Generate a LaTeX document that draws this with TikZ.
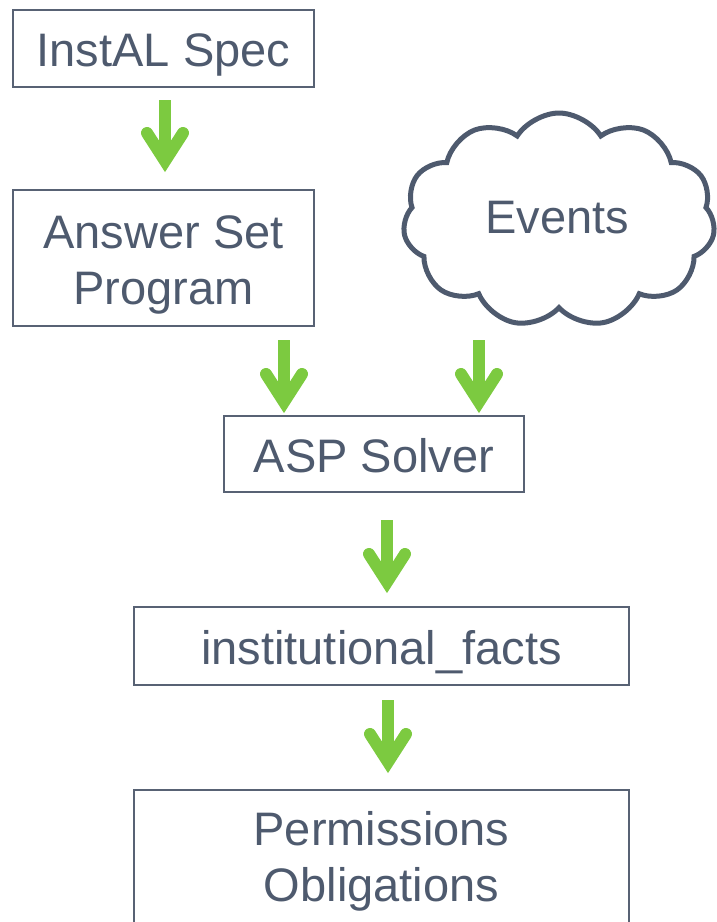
\documentclass[tikz,border=0pt]{standalone}
\usepackage{fontspec}
\setmainfont{Liberation Sans}
\usetikzlibrary{calc,shapes.symbols}
\definecolor{slate}{RGB}{78,90,110}
\definecolor{boxline}{RGB}{88,98,116}
\definecolor{agreen}{RGB}{124,202,64}
\newcommand\garrow[2]{%
  \draw[gline,line cap=butt] (#1) -- ($(#2)+(0,-14)$);
  \draw[gline,line join=miter] ($(#2)+(-18,-40)$) -- ($(#2)+(0,-12)$) -- ($(#2)+(18,-40)$);
}
\newcommand\boxtext[1]{\raisebox{-7pt}[\height][\depth]{\begin{tabular}{@{}c@{}}#1\end{tabular}}}
\tikzset{
  box/.style={draw=boxline,line width=1.6pt,fill=white,text=slate,inner sep=0pt,
    font=\fontsize{47}{56.5}\selectfont},
  plaintext/.style={text=slate,inner sep=0pt,font=\fontsize{47}{56.5}\selectfont},
  gline/.style={draw=agreen,line width=12pt,line cap=round},
}
\begin{document}
\begin{tikzpicture}[x=1pt,y=-1pt]
\useasboundingbox (0,0) rectangle (716,922);
\node[box,minimum width=301pt,minimum height=77pt] (spec) at (163.5,48.5) {\boxtext{InstAL Spec}};
\node[box,minimum width=301pt,minimum height=136pt] (asp) at (163.5,258) {\boxtext{Answer Set\\Program}};
\node[cloud,cloud puffs=11,cloud puff arc=115,aspect=1.45,draw=slate,line width=5pt,
  minimum width=312pt,minimum height=214pt,inner sep=0pt] (ev) at (559,220) {};
\node[plaintext] (evtext) at (557,215) {\boxtext{Events}};
\node[box,minimum width=300pt,minimum height=76pt] (solver) at (374,454) {\boxtext{ASP Solver}};
\node[box,minimum width=495pt,minimum height=78pt] (facts) at (381.5,646) {\boxtext{institutional\_facts}};
\node[box,minimum width=495pt,minimum height=180pt] (perm) at (381.5,880) {};
\node[plaintext] (permtext) at (381.5,855) {\boxtext{Permissions\\Obligations}};
\coordinate (a1s) at (165,100); \coordinate (a1e) at (165,173);
\coordinate (a2s) at (284,340); \coordinate (a2e) at (284,414);
\coordinate (a3s) at (479,340); \coordinate (a3e) at (479,414);
\coordinate (a4s) at (387,520); \coordinate (a4e) at (387,594);
\coordinate (a5s) at (388,700); \coordinate (a5e) at (388,774);
\garrow{a1s}{a1e}
\garrow{a2s}{a2e}
\garrow{a3s}{a3e}
\garrow{a4s}{a4e}
\garrow{a5s}{a5e}
\end{tikzpicture}
\end{document}
